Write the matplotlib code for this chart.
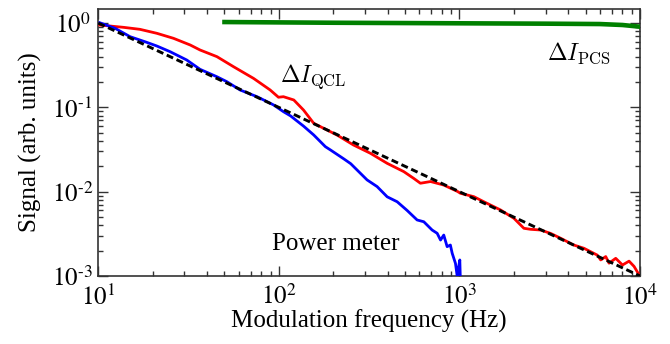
import matplotlib
matplotlib.use("Agg")
import matplotlib.pyplot as plt
from matplotlib.ticker import LogLocator, NullFormatter
import numpy as np

plt.rcParams['font.family'] = ['Liberation Serif', 'DejaVu Serif']
plt.rcParams['mathtext.fontset'] = 'stix'

# ---- data ----
qcl_freq = [10.2, 11.6, 13.8, 17.0, 21.1, 26.1, 32.3, 36.6, 45.4, 56.1, 72.4, 89.5, 99.5,
            106, 121, 137, 156, 210, 259, 321, 398, 492, 558, 608, 692, 818, 973,
            1014, 1202, 1365, 1690, 2005, 2275, 2477, 2818, 3200, 3640, 4300, 4900,
            5330, 5800, 6060, 6460, 6740, 7340, 8000, 8700, 9270, 9890, 10000]
qcl_vals = [0.949, 0.924, 0.891, 0.844, 0.757, 0.66, 0.55, 0.48, 0.40, 0.304, 0.221, 0.161, 0.132,
            0.134, 0.1225, 0.093, 0.0648, 0.047, 0.0358, 0.0286, 0.0217, 0.0173, 0.0144, 0.0126, 0.0132, 0.012, 0.0101,
            0.00957, 0.00873, 0.0076, 0.00607, 0.00483, 0.00368, 0.00358, 0.00351, 0.0032, 0.0028, 0.00233, 0.00213,
            0.00194, 0.00177, 0.00155, 0.0017, 0.00142, 0.00162, 0.00135, 0.0015, 0.0013, 0.00103, 0.00098]

pm_freq = [10.2, 12.4, 15.0, 18.2, 21.1, 25.0, 30.9, 36.6, 45.4, 51.5, 61, 75.7, 93.5, 106, 116,
           137, 156, 181, 193, 229, 250, 289, 308, 350, 398, 452, 513, 583, 635, 706, 753,
           786, 819, 855, 891, 912, 951, 973, 985, 1005, 1012]
pm_vals = [1.01, 0.867, 0.69, 0.60, 0.535, 0.458, 0.365, 0.283, 0.231, 0.202, 0.161, 0.134, 0.107, 0.089, 0.0794,
           0.060, 0.0471, 0.0342, 0.0313, 0.0245, 0.0215, 0.0158, 0.0138, 0.0115, 0.0087, 0.0076, 0.0060, 0.00462, 0.0044, 0.00351, 0.00321,
           0.00267, 0.00306, 0.00223, 0.00233, 0.00186, 0.00141, 0.00098, 0.0012, 0.00155, 0.0009]

pcs_freq = [50, 200, 1000, 3000, 6000, 8000, 10000]
pcs_vals = [1.03, 1.01, 0.995, 0.985, 0.975, 0.95, 0.906]

fit_freq = [10, 10000]
fit_vals = [1.0, 0.001]

xticks = [10, 100, 1000, 10000]
xticklabels = [r'$10^{1}$', r'$10^{2}$', r'$10^{3}$', r'$10^{4}$']
yticks = [0.001, 0.01, 0.1, 1]
yticklabels = [r'$10^{\text{-3}}$', r'$10^{\text{-2}}$', r'$10^{\text{-1}}$', r'$10^{0}$']

fig = plt.figure(figsize=(6.7, 3.44), dpi=100)
ax = fig.add_axes([0.1467, 0.1977, 0.9552 - 0.1467, 0.9738 - 0.1977])

ax.plot(qcl_freq, qcl_vals, color='#ff0000', lw=2.0, zorder=3)
ax.plot(pm_freq, pm_vals, color='#0000ff', lw=2.0, zorder=4)
ax.plot(fit_freq, fit_vals, color='black', lw=2.1, ls=(0, (2.4, 1.3)), zorder=5)
ax.plot(pcs_freq, pcs_vals, color='#008000', lw=3.3, zorder=3)

ax.set_xscale('log')
ax.set_yscale('log')
ax.set_xlim(10, 10000)
ax.set_ylim(0.001, 1.47)

ax.set_xticks(xticks)
ax.set_xticklabels(xticklabels)
ax.set_yticks(yticks)
ax.set_yticklabels(yticklabels)
ax.xaxis.set_minor_locator(LogLocator(base=10, subs=np.arange(2, 10)))
ax.yaxis.set_minor_locator(LogLocator(base=10, subs=np.arange(2, 10)))
ax.xaxis.set_minor_formatter(NullFormatter())
ax.yaxis.set_minor_formatter(NullFormatter())

ax.tick_params(which='both', direction='in', top=True, right=True, width=1.0, color='#333333')
ax.tick_params(which='major', length=7)
ax.tick_params(which='minor', length=3.6)
ax.tick_params(axis='x', which='major', labelsize=18, pad=6)
ax.tick_params(axis='y', which='major', labelsize=18, pad=18.5)
for lab in ax.get_yticklabels():
    lab.set_ha('center')
for s in ax.spines.values():
    s.set_linewidth(1.2)
    s.set_color('#333333')

ax.set_xlabel('Modulation frequency (Hz)', fontsize=18, labelpad=0)
ax.set_ylabel('Signal (arb. units)', fontsize=18)
ax.yaxis.set_label_coords(-0.104, 0.5)

ax.text(102, 0.2, r'$\Delta I_{\mathrm{QCL}}$', fontsize=17, math_fontfamily='cm', va='baseline', ha='left')
ax.text(3070, 0.365, r'$\Delta I_{\mathrm{PCS}}$', fontsize=17, math_fontfamily='cm', va='baseline', ha='left')
ax.text(91.9, 0.00203, 'Power meter', fontsize=18, va='baseline', ha='left')

fig.savefig('out.png', dpi=100)
